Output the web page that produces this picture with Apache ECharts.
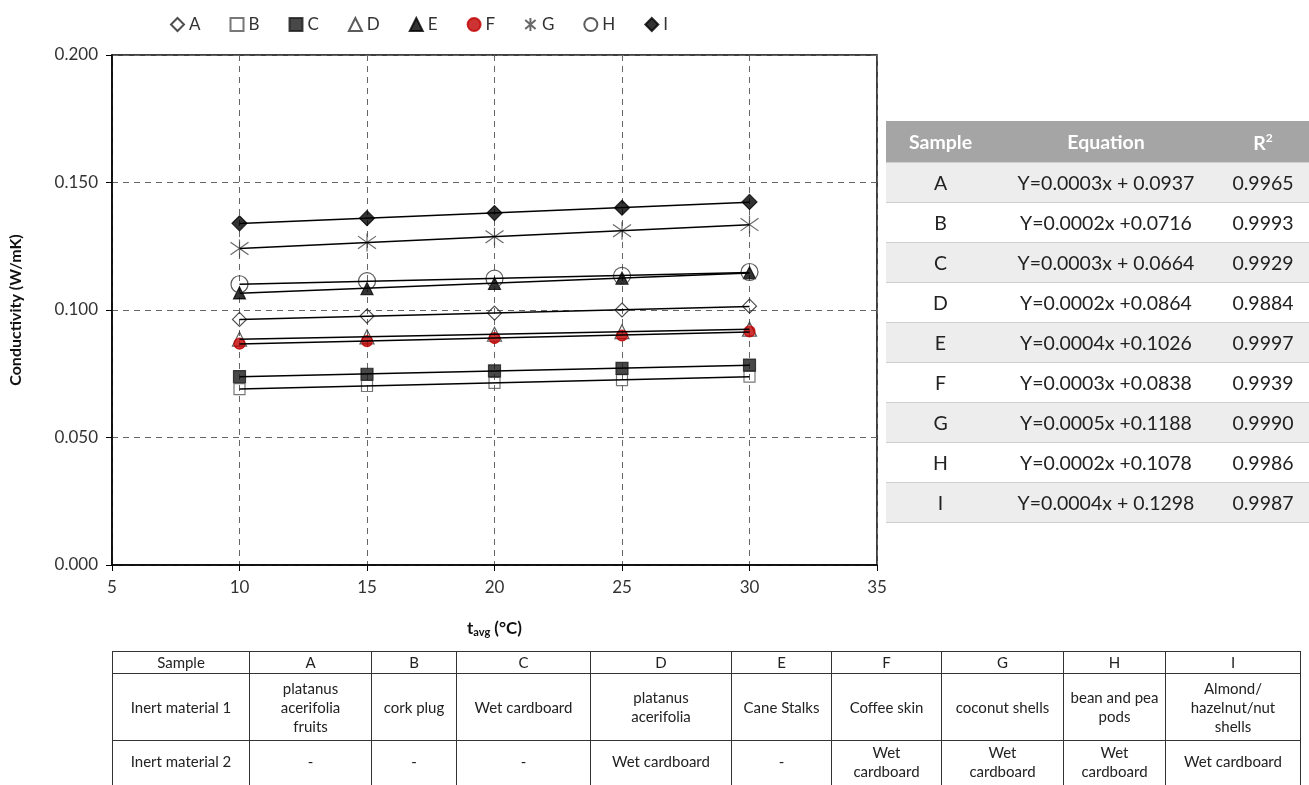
<!DOCTYPE html>
<html>
<head>
<meta charset="utf-8" />
<title>Conductivity vs t_avg</title>
<script src="https://cdn.jsdelivr.net/npm/echarts@6/dist/echarts.min.js"></script>
<style type="text/css">
  html, body { margin: 0; padding: 0; background: #fff; overflow: hidden; }
  body { width: 1309px; height: 785px; position: relative; font-family: Lato, "Open Sans", sans-serif; }
  #main { position: absolute; left: 0; top: 0; width: 1309px; height: 785px; }
  #eqTable { position: absolute; left: 886px; top: 121px; border-collapse: collapse; font-size: 19.5px; color: #222; }
  #eqTable th { background: #a5a5a5; color: #fff; font-weight: bold; height: 41px; padding: 0; font-size: 19.5px; }
  #eqTable td { height: 39px; padding: 0; text-align: center; border-top: 1px solid #cfcfcf; }
  #eqTable tr.odd td { background: #ededed; }
  #eqTable tr:last-child td { border-bottom: 1px solid #cfcfcf; }
  #matTable { position: absolute; left: 112px; top: 651px; border-collapse: collapse; font-size: 15px; color: #222; table-layout: fixed; }
  #matTable td { border: 1px solid #333; text-align: center; padding: 0 1px; line-height: 19px; white-space: nowrap; }
</style>
</head>
<body>
<div id="main"></div>
<table id="eqTable"></table>
<table id="matTable"></table>
<script type="text/javascript">

// temperatures (°C)
var temps = [10, 15, 20, 25, 30];
var names = ['A', 'B', 'C', 'D', 'E', 'F', 'G', 'H', 'I'];

// conductivity readings (W/mK)
var sA = [0.0963, 0.0976, 0.0988, 0.1000, 0.1015];
var sB = [0.0690, 0.0702, 0.0714, 0.0725, 0.0739];
var sC = [0.0739, 0.0748, 0.0761, 0.0771, 0.0784];
var sD = [0.0886, 0.0895, 0.0905, 0.0915, 0.0925];
var sE = [0.1067, 0.1084, 0.1104, 0.1125, 0.1146];
var sF = [0.0868, 0.0878, 0.0890, 0.0900, 0.0916];
var sG = [0.1241, 0.1265, 0.1287, 0.1311, 0.1335];
var sH = [0.1101, 0.1113, 0.1123, 0.1134, 0.1149];
var sI = [0.1340, 0.1360, 0.1380, 0.1401, 0.1424];

// fit table
var equations = ['Y=0.0003x + 0.0937', 'Y=0.0002x +0.0716', 'Y=0.0003x + 0.0664', 'Y=0.0002x +0.0864',
  'Y=0.0004x +0.1026', 'Y=0.0003x +0.0838', 'Y=0.0005x +0.1188', 'Y=0.0002x +0.1078', 'Y=0.0004x + 0.1298'];
var r2 = ['0.9965', '0.9993', '0.9929', '0.9884', '0.9997', '0.9939', '0.9990', '0.9986', '0.9987'];

// materials table
var inert1 = ['platanus<br>acerifolia<br>fruits', 'cork plug', 'Wet cardboard', 'platanus<br>acerifolia', 'Cane Stalks',
  'Coffee skin', 'coconut shells', 'bean and pea<br>pods', 'Almond/<br>hazelnut/nut<br>shells'];
var inert2 = ['-', '-', '-', 'Wet cardboard', '-', 'Wet<br>cardboard', 'Wet<br>cardboard', 'Wet<br>cardboard', 'Wet cardboard'];

var yTicks = [0, 0.05, 0.1, 0.15, 0.2];
var xTicks = [5, 10, 15, 20, 25, 30, 35];

var allSeries = [sA, sB, sC, sD, sE, sF, sG, sH, sI];

var asterisk = 'path://M10,0 L10,20 M2,3 L18,17 M2,17 L18,3';
var markers = [
  { symbol: 'diamond', size: 14, fill: 'rgba(0,0,0,0)', border: '#222' },
  { symbol: 'rect', size: 11, fill: 'rgba(0,0,0,0)', border: '#555' },
  { symbol: 'rect', size: 12, fill: '#1a1a1a', border: '#1a1a1a' },
  { symbol: 'triangle', size: 14, fill: 'rgba(0,0,0,0)', border: '#333' },
  { symbol: 'triangle', size: 12, fill: '#000', border: '#000' },
  { symbol: 'circle', size: 11, fill: '#c00000', border: '#c00000' },
  { symbol: asterisk, size: 18, fill: 'rgba(0,0,0,0)', border: '#444' },
  { symbol: 'circle', size: 17, fill: 'rgba(0,0,0,0)', border: '#333' },
  { symbol: 'diamond', size: 15, fill: '#000', border: '#000' }
];

function fitLine(ys) {
  var n = temps.length, sx = 0, sy = 0, sxx = 0, sxy = 0;
  for (var i = 0; i < n; i++) {
    sx += temps[i]; sy += ys[i]; sxx += temps[i] * temps[i]; sxy += temps[i] * ys[i];
  }
  var b = (n * sxy - sx * sy) / (n * sxx - sx * sx);
  var a = (sy - b * sx) / n;
  var x0 = temps[0], x1 = temps[n - 1];
  return [[x0, a + b * x0], [x1, a + b * x1]];
}

var series = [];
allSeries.forEach(function (ys, i) {
  series.push({
    name: names[i] + ' fit',
    type: 'line',
    data: fitLine(ys),
    symbol: 'none',
    silent: true,
    z: 3,
    lineStyle: { color: '#000', width: 1.5 }
  });
});
allSeries.forEach(function (ys, i) {
  var m = markers[i];
  series.push({
    name: names[i],
    type: 'scatter',
    data: temps.map(function (t, k) { return [t, ys[k]]; }),
    symbol: m.symbol,
    symbolSize: m.size,
    z: 2,
    itemStyle: { color: m.fill, borderColor: m.border, borderWidth: 1.2 }
  });
});

var myChart = echarts.init(document.getElementById('main'));
var option = {
  animation: false,
  textStyle: { fontFamily: 'Lato' },
  legend: {
    data: names,
    left: 165,
    top: 11,
    itemWidth: 13,
    itemHeight: 13,
    itemGap: 29,
    textStyle: { fontSize: 17, color: '#333' }
  },
  grid: {
    left: 110, right: 432, top: 55, bottom: 220,
    show: true, borderColor: '#000', borderWidth: 1.5
  },
  xAxis: {
    type: 'value',
    min: xTicks[0], max: xTicks[xTicks.length - 1], interval: 5,
    axisLine: { lineStyle: { color: '#000', width: 1.5 } },
    axisTick: { show: true, inside: false, length: 6, lineStyle: { color: '#000' } },
    axisLabel: { fontSize: 17, color: '#333', margin: 14 },
    splitLine: { lineStyle: { color: '#666', type: [6, 5], width: 1 } },
    name: 't{sub|avg} (°C)',
    nameLocation: 'middle',
    nameGap: 54,
    nameTextStyle: {
      fontSize: 17, fontWeight: 'bold', color: '#111',
      rich: { sub: { fontSize: 11, fontWeight: 'bold', verticalAlign: 'bottom', padding: [8, 0, 0, 0], color: '#111' } }
    }
  },
  yAxis: {
    type: 'value',
    min: yTicks[0], max: yTicks[yTicks.length - 1], interval: 0.05,
    axisLine: { lineStyle: { color: '#000', width: 1.5 } },
    axisTick: { show: true, length: 6, lineStyle: { color: '#000' } },
    axisLabel: { fontSize: 17, color: '#333', margin: 14, formatter: function (v) { return v.toFixed(3); } },
    splitLine: { lineStyle: { color: '#666', type: [6, 5], width: 1 } },
    name: 'Conductivity (W/mK)',
    nameLocation: 'middle',
    nameGap: 88,
    nameTextStyle: { fontSize: 16, fontWeight: 'bold', color: '#111' }
  },
  series: series
};
myChart.setOption(option);

// right-hand fit table
var eqHtml = '<tr><th style="width:109px">Sample</th><th style="width:222px">Equation</th><th style="width:92px">R<sup style="font-size:12px">2</sup></th></tr>';
names.forEach(function (n, i) {
  eqHtml += '<tr class="' + (i % 2 === 0 ? 'odd' : 'even') + '"><td>' + n + '</td><td>' + equations[i] + '</td><td>' + r2[i] + '</td></tr>';
});
document.getElementById('eqTable').innerHTML = eqHtml;

// bottom materials table
var colW = [137, 122, 85, 134, 141, 100, 110, 122, 102, 135];
var mHtml = '<colgroup>' + colW.map(function (w) { return '<col style="width:' + w + 'px">'; }).join('') + '</colgroup>';
mHtml += '<tr style="height:22px"><td>Sample</td>' + names.map(function (n) { return '<td>' + n + '</td>'; }).join('') + '</tr>';
mHtml += '<tr style="height:67px"><td>Inert material 1</td>' + inert1.map(function (s) { return '<td>' + s + '</td>'; }).join('') + '</tr>';
mHtml += '<tr style="height:62px"><td style="vertical-align:top;padding-top:11px">Inert material 2</td>' + inert2.map(function (s) {
  return '<td style="vertical-align:top;padding-top:' + (s.indexOf('<br>') >= 0 ? 2 : 11) + 'px">' + s + '</td>';
}).join('') + '</tr>';
document.getElementById('matTable').innerHTML = mHtml;
</script>
</body>
</html>
